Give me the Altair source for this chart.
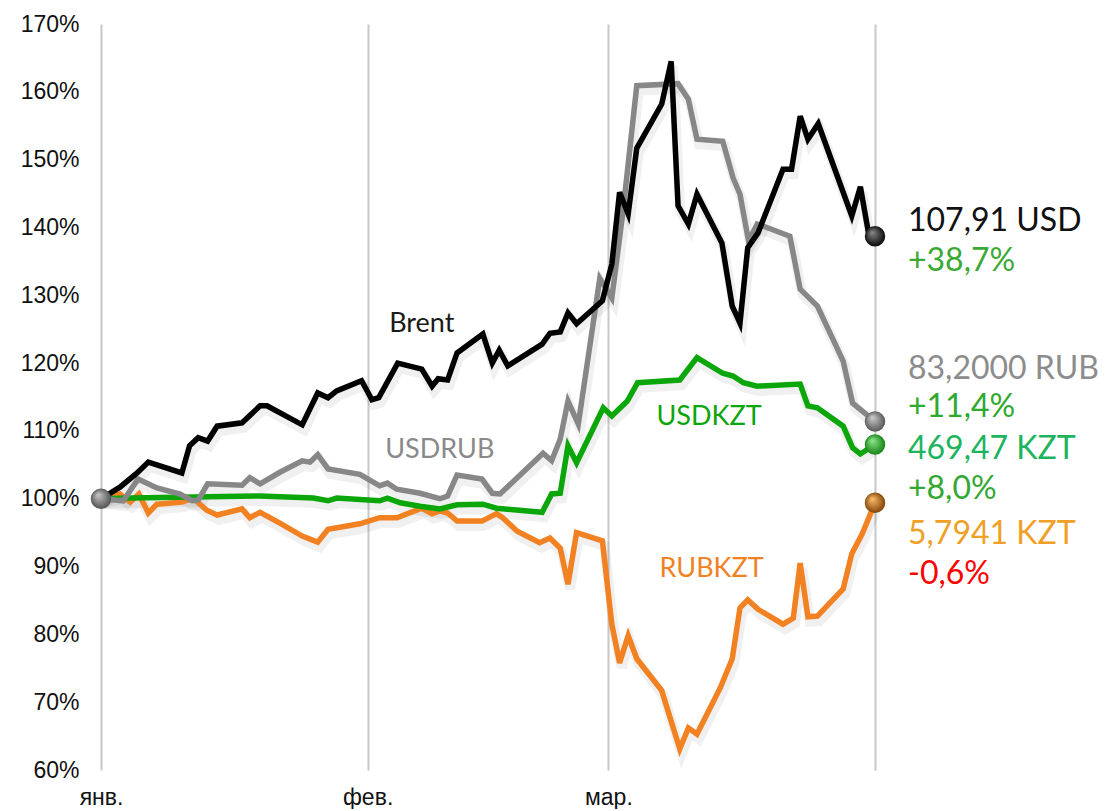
import altair as alt
import pandas as pd

# ---- data (days since 1 Jan 2022, value as % of start) ----
brent_day = [0, 2.2, 4.2, 5.5, 9.4, 10.3, 11.3, 12.4, 13.5, 16.4, 18.5, 19.3, 23.4, 25.2, 26.4,
             27.4, 30.3, 31.5, 32.3, 34.5, 37.3, 38.5, 39.2, 40.3, 41.4, 44.4, 45.5, 46.3, 47.3,
             51.3, 52.2, 53.4, 54.3, 55.3, 58.3, 59.4, 60.3, 61.3, 62.3, 65.2, 66.3, 67.1, 68.3,
             69.3, 72.2, 73.4, 74.3, 75.2, 76.4, 79.3, 80.3, 81.3, 82.2, 83.4, 87.3, 88.3, 89.2, 90]
brent_val = [100, 101.7, 103.8, 105.4, 103.8, 107.8, 109.0, 108.5, 110.7, 111.2, 113.7, 113.7, 110.9,
             115.6, 114.9, 115.9, 117.4, 114.6, 114.9, 120.0, 119.1, 116.6, 117.7, 117.5, 121.5, 124.3,
             120.0, 121.9, 119.6, 122.8, 124.4, 124.6, 127.4, 125.8, 129.2, 134.6, 145.2, 142.0, 151.7,
             158.2, 164.5, 143.2, 140.5, 144.9, 137.7, 128.4, 125.9, 137.0, 139.2, 148.6, 148.6, 156.4,
             153.0, 155.3, 141.7, 146.0, 139.5, 138.7]

usdrub_day = [0, 2.6, 4.3, 6.5, 9.2, 10.6, 11.3, 12.4, 16.4, 17.3, 18.5, 20.8, 23.4, 24.3, 25.2, 26.4,
              30.1, 32.4, 33.3, 34.4, 37.1, 39.4, 40.3, 41.4, 44.3, 45.5, 46.4, 48.4, 51.4, 52.4, 53.4,
              54.3, 55.5, 58.0, 59.4, 60.7, 62.3, 67.1, 68.3, 69.3, 72.3, 73.5, 74.3, 75.3, 76.3, 77.2,
              80.1, 81.3, 83.3, 86.3, 87.4, 90]
usdrub_val = [100, 99.7, 102.9, 101.6, 100.7, 99.7, 99.8, 102.2, 102.0, 103.1, 102.2, 103.9, 105.6,
              105.4, 106.5, 104.4, 103.6, 101.9, 102.3, 101.4, 100.8, 100.0, 100.4, 103.5, 102.9, 100.8,
              100.7, 103.1, 106.7, 105.6, 108.8, 114.4, 111.0, 132.5, 129.6, 142.4, 160.9, 161.2, 158.9,
              153.0, 152.7, 147.3, 144.9, 138.0, 140.5, 140.1, 138.7, 130.9, 128.4, 120.3, 114.1, 111.4]

usdkzt_day = [0, 3.4, 18.5, 24.7, 26.4, 27.4, 32.4, 33.3, 34.8, 37.1, 39.4, 41.4, 44.4, 46.0, 51.3,
              52.4, 53.4, 54.3, 55.3, 58.4, 59.4, 61.2, 62.4, 67.3, 69.3, 72.3, 73.5, 74.7, 76.3, 81.3,
              82.2, 83.3, 86.3, 87.4, 88.3, 90]
usdkzt_val = [100, 100.1, 100.4, 100.1, 99.7, 100.1, 99.7, 100.1, 99.4, 98.9, 98.5, 99.1, 99.2, 98.6,
              98.0, 100.7, 100.8, 107.8, 105.3, 113.4, 112.2, 114.4, 117.1, 117.5, 120.8, 118.5, 118.1,
              117.1, 116.6, 116.9, 113.7, 113.4, 110.7, 107.5, 106.6, 108.0]

rubkzt_day = [0, 2.2, 3.4, 4.4, 5.5, 6.5, 9.4, 10.7, 12.3, 13.5, 16.4, 17.3, 18.5, 20.8, 23.4, 25.2,
              26.4, 30.1, 32.4, 34.4, 37.3, 38.5, 39.4, 40.3, 41.4, 44.3, 46.0, 46.7, 48.4, 51.0, 52.2,
              53.4, 54.3, 55.3, 58.3, 59.4, 60.3, 61.3, 62.3, 65.2, 67.3, 68.3, 69.3, 72.0, 73.4, 74.3,
              75.2, 76.4, 79.3, 80.5, 81.3, 82.2, 83.3, 86.3, 87.3, 88.5, 90]
rubkzt_val = [100, 100.7, 99.5, 100.7, 97.9, 99.2, 99.5, 100.1, 98.3, 97.6, 98.5, 97.2, 98.0, 96.4,
              94.5, 93.6, 95.5, 96.3, 97.2, 97.2, 98.6, 97.8, 98.2, 97.9, 96.7, 96.7, 97.8, 97.2, 95.2,
              93.5, 94.2, 92.7, 87.4, 95.0, 93.8, 81.5, 75.8, 79.8, 76.4, 71.7, 63.1, 66.2, 65.3, 72.1,
              76.4, 83.9, 85.1, 83.7, 81.5, 82.4, 90.5, 82.6, 82.7, 86.7, 91.9, 94.8, 99.4]

series_names = ["RUBKZT", "USDKZT", "USDRUB", "Brent"]
series_colors = ["#f28121", "#0aa60a", "#878787", "#000000"]

month_days = [0, 31, 59, 90]
month_labels = ["янв.", "фев.", "мар.", ""]
y_ticks = [60, 70, 80, 90, 100, 110, 120, 130, 140, 150, 160, 170]

# series name labels (day, value)
name_day = [37.3, 39.4, 70.7, 71.0]
name_val = [125.8, 107.2, 112.0, 89.6]
name_text = ["Brent", "USDRUB", "USDKZT", "RUBKZT"]
name_color = ["#1a1a1a", "#8a8a8a", "#0aa60a", "#f28121"]

# right-hand annotations
ann_text = ["107,91 USD", "+38,7%", "83,2000 RUB", "+11,4%", "469,47 KZT", "+8,0%", "5,7941 KZT", "-0,6%"]
ann_val = [140.95, 135.05, 119.1, 113.5, 107.3, 101.4, 94.8, 88.9]
ann_color = ["#111111", "#3aaa35", "#8c8c8c", "#2eaa2e", "#1db45e", "#34a834", "#f0a027", "#ff0000"]

# end points
dot_day = [0, 90, 90, 90, 90]
dot_val = [100, 138.7, 111.4, 108.0, 99.4]
dot_light = ["#c9c9c9", "#8a8a8a", "#cfcfcf", "#8fe88f", "#ffc070"]
dot_dark = ["#4a4a4a", "#000000", "#505050", "#0c7d0c", "#7a3c00"]

# ---- build tables ----
rows = []
for name, days, vals in [("RUBKZT", rubkzt_day, rubkzt_val), ("USDKZT", usdkzt_day, usdkzt_val),
                         ("USDRUB", usdrub_day, usdrub_val), ("Brent", brent_day, brent_val)]:
    for i, (d, v) in enumerate(zip(days, vals)):
        rows.append({"series": name, "day": d, "value": v, "order": i})
df = pd.DataFrame(rows)

names_df = pd.DataFrame({"day": name_day, "value": name_val, "text": name_text, "color": name_color})
ann_df = pd.DataFrame({"day": [90] * len(ann_text), "value": ann_val, "text": ann_text, "color": ann_color})

x_scale = alt.Scale(domain=[0, 90], nice=False, zero=False)
y_scale = alt.Scale(domain=[60, 170], nice=False, zero=False)

label_expr = " : ".join(
    f"datum.value == {d} ? '{l}'" for d, l in zip(month_days, month_labels)) + " : ''"

x_axis = alt.Axis(values=month_days, labelExpr=label_expr, grid=True, gridColor="#c8c8c8",
                  gridWidth=2, ticks=False, domain=False, labelFontSize=23,
                  labelFont="Liberation Sans", labelColor="#111111", labelPadding=16,
                  labelFlush=False, labelOverlap=False, title=None)
y_axis = alt.Axis(values=y_ticks, labelExpr="datum.value + '%'", grid=False, ticks=False,
                  domain=False, labelFontSize=23, labelFont="Liberation Sans",
                  labelColor="#111111", labelPadding=22, title=None)

X = alt.X("day:Q", scale=x_scale, axis=x_axis)
Y = alt.Y("value:Q", scale=y_scale, axis=y_axis)

color = alt.Color("series:N", scale=alt.Scale(domain=series_names, range=series_colors), legend=None)

shadow = alt.Chart(df).mark_line(strokeWidth=10, color="#000000", opacity=0.06, yOffset=5,
                                 xOffset=2).encode(
    x=X, y=Y, detail="series:N", order="order:Q")

lines = alt.Chart(df).mark_line(strokeWidth=5.5).encode(
    x=X, y=Y, color=color, order="order:Q")

names = alt.Chart(names_df).mark_text(font="Lato", fontSize=27).encode(
    x=X, y=Y, text="text:N", color=alt.Color("color:N", scale=None))

ann = alt.Chart(ann_df).mark_text(font="Lato", fontSize=32, align="left", dx=33).encode(
    x=X, y=Y, text="text:N", color=alt.Color("color:N", scale=None))

dots = []
for d, v, lc, dc in zip(dot_day, dot_val, dot_light, dot_dark):
    grad = {"gradient": "radial", "x1": 0.35, "y1": 0.3, "r1": 0.0,
            "x2": 0.5, "y2": 0.5, "r2": 0.55,
            "stops": [{"offset": 0, "color": lc}, {"offset": 1, "color": dc}]}
    ddf = pd.DataFrame({"day": [d], "value": [v]})
    dots.append(alt.Chart(ddf).mark_circle(size=420, opacity=1, color=grad).encode(x=X, y=Y))

chart = alt.layer(shadow, lines, names, ann, *dots).properties(
    width=774, height=746,
    padding={"left": 12, "top": 5, "right": 0, "bottom": 0},
    background="white",
).configure_view(stroke=None)

chart.save("out.html", embed_options={"renderer": "svg", "actions": False})
